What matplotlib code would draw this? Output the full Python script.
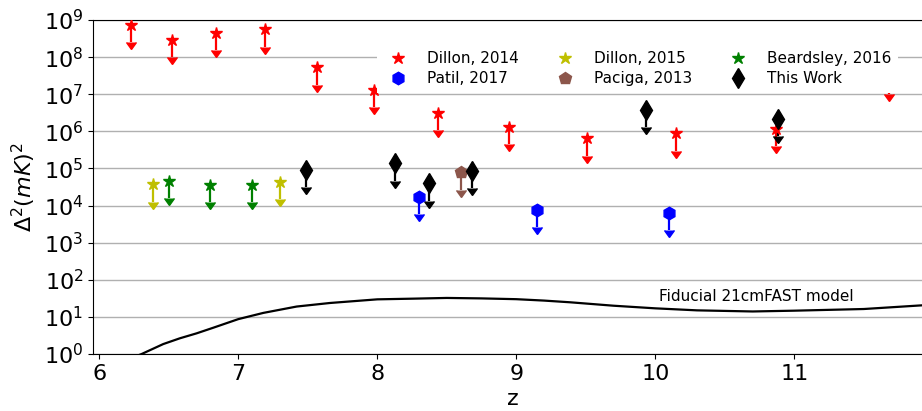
import matplotlib
matplotlib.use("Agg")
import matplotlib.pyplot as plt
from matplotlib.ticker import NullLocator

# upper limits on the 21cm power spectrum, Delta^2 in (mK)^2
dillon14_z = [6.23, 6.52, 6.84, 7.19, 7.57, 7.98, 8.44, 8.95, 9.51, 10.15, 10.87, 11.68]
dillon14_val = [7.4e8, 2.9e8, 4.6e8, 5.6e8, 5.3e7, 1.3e7, 3.1e6, 1.3e6, 6.5e5, 8.9e5, 1.15e6, 2.9e7]

dillon15_z = [6.39, 7.30]
dillon15_val = [3.7e4, 4.4e4]

beardsley16_z = [6.50, 6.80, 7.10]
beardsley16_val = [4.7e4, 3.6e4, 3.6e4]

patil17_z = [8.30, 9.15, 10.10]
patil17_val = [1.74e4, 7.6e3, 6.4e3]

paciga13_z = [8.60]
paciga13_val = [7.9e4]

thiswork_z = [7.49, 8.13, 8.37, 8.68, 9.93, 10.88]
thiswork_val = [9.1e4, 1.38e5, 4.0e4, 8.7e4, 3.8e6, 2.2e6]

# fiducial 21cmFAST model
model_z = [6.10, 6.20, 6.305, 6.46, 6.58, 6.70, 6.82, 7.00, 7.18, 7.42, 7.66, 8.00,
           8.26, 8.50, 8.75, 9.00, 9.20, 9.39, 9.70, 10.00, 10.30, 10.70, 11.00,
           11.50, 11.92, 12.00]
model_val = [0.44, 0.7, 1.0, 1.85, 2.65, 3.6, 5.1, 8.7, 12.8, 19.0, 23.7, 29.7,
             31.0, 32.4, 31.5, 30.0, 27.5, 24.7, 20.0, 17.0, 15.0, 14.0, 14.7,
             16.3, 20.5, 21.0]

x_ticks = [6, 7, 8, 9, 10, 11]

series = [
    ("Dillon, 2014", dillon14_z, dillon14_val, "r", "*", 9),
    ("Patil, 2017", patil17_z, patil17_val, "b", "h", 9),
    ("Dillon, 2015", dillon15_z, dillon15_val, "y", "*", 9),
    ("Paciga, 2013", paciga13_z, paciga13_val, "#8c564b", "p", 9),
    ("Beardsley, 2016", beardsley16_z, beardsley16_val, "g", "*", 9),
    ("This Work", thiswork_z, thiswork_val, "k", "d", 10.5),
]
draw_order = [0, 2, 4, 1, 3, 5]
frac = 0.66  # length of the upper-limit arrows

fig = plt.figure(figsize=(9.22, 4.11), dpi=100)
ax = fig.add_axes([93 / 922, 57 / 411, 840.3 / 922, 334 / 411])

handles = {}
for i in draw_order:
    label, z, v, c, m, ms = series[i]
    err = [val * frac for val in v]
    _, caps, _ = ax.errorbar(z, v, yerr=err, uplims=True, fmt="none", ecolor=c,
                             elinewidth=1.6, zorder=3)
    for cap in caps:
        cap.set_color(c)
        cap.set_markerfacecolor(c)
        cap.set_markeredgecolor(c)
        cap.set_markersize(6.5)
    h, = ax.plot(z, v, linestyle="none", marker=m, color=c, markersize=ms,
                 markeredgecolor=c, zorder=4, label=label)
    handles[i] = h

ax.plot(model_z, model_val, color="k", lw=1.6, zorder=2)
ax.text(10.03, 35, "Fiducial 21cmFAST model", fontsize=11, va="center")

ax.set_yscale("log")
ax.set_ylim(1, 1e9)
ax.set_xlim(5.955, 12.0)
ax.set_xticks(x_ticks)
ax.set_yticks([10.0 ** k for k in range(10)])
ax.yaxis.set_minor_locator(NullLocator())
ax.grid(axis="y", color="#b0b0b0", lw=1.0)
ax.set_axisbelow(True)
ax.spines["right"].set_visible(False)

ax.tick_params(labelsize=16)
ax.set_xlabel("z", fontsize=16)
ax.set_ylabel(r"$\Delta^2(mK)^2$", fontsize=16)

leg = ax.legend([handles[i] for i in range(6)], [s[0] for s in series],
                ncol=3, fontsize=11, loc="upper left",
                bbox_to_anchor=(377 / 922, 1 - 45 / 411),
                bbox_transform=fig.transFigure, borderaxespad=0,
                handletextpad=0.9, columnspacing=2.0, labelspacing=0.35,
                frameon=True, framealpha=1.0, edgecolor="none", fancybox=False)
leg.set_zorder(5)

fig.savefig("out.png", dpi=100)
